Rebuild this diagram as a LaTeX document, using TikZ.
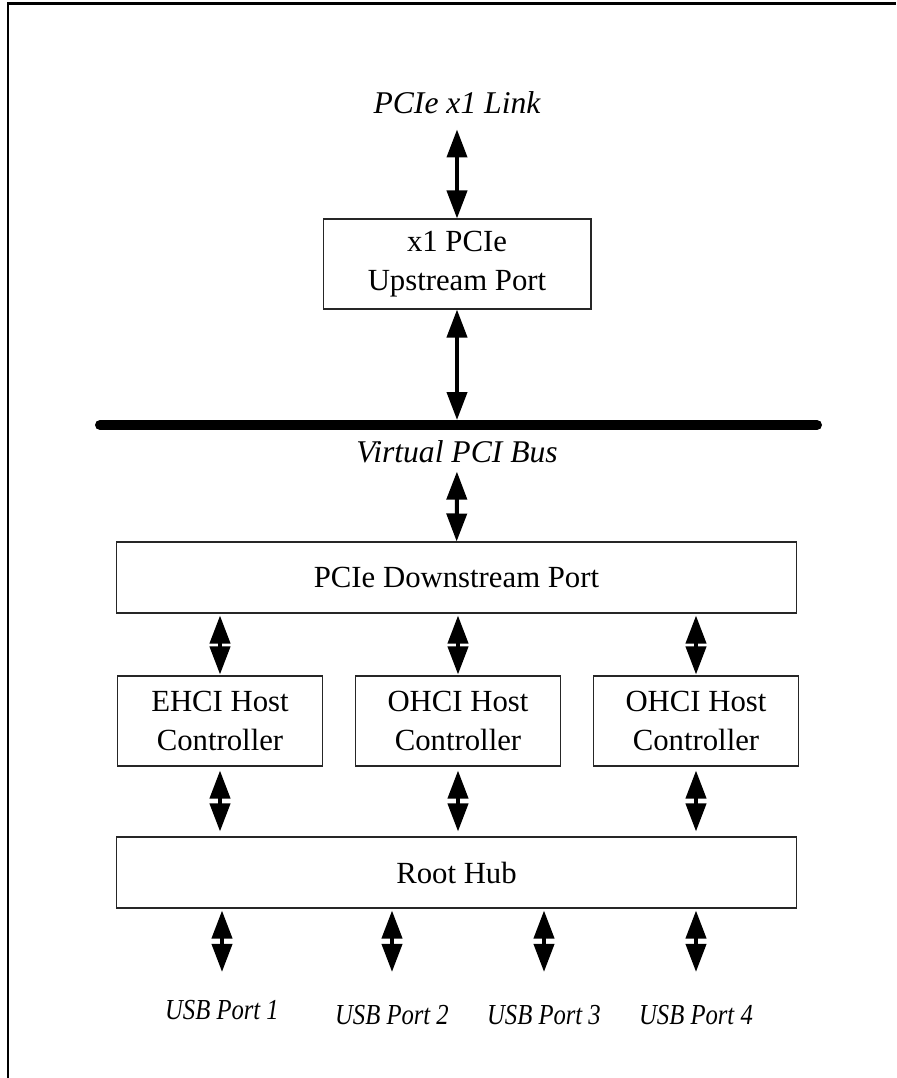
\documentclass[tikz,border=0pt]{standalone}
\usepackage{fontspec}
\setmainfont{Liberation Serif}
\usepackage{tikz}
\usetikzlibrary{arrows.meta,positioning}
\newcommand{\narrowtext}[1]{\scalebox{0.85}[1]{#1}}

\begin{document}
\begin{tikzpicture}[x=0.02cm, y=-0.02cm, >={Triangle[length=0.56cm, width=0.4cm]},
        block/.style={draw=black!85, line width=0.6pt, rectangle, align=center, inner sep=0pt, font=\fontsize{17.5}{22}\selectfont},
        tag/.style={inner sep=0pt, font=\itshape\fontsize{18}{21}\selectfont},
        usbtag/.style={inner sep=0pt, font=\itshape\fontsize{16.5}{20}\selectfont},
        link/.style={<->, line width=0.08cm}]
        \useasboundingbox (0,0) rectangle (896,1078);
        % Marco superior e izquierdo
        \draw[line width=0.06cm] (8,1078) -- (8,4) -- (896,4);
        % Enlace PCIe y puerto de subida
        \node[tag] (link) at (457,103) {PCIe x1 Link};
        \node[block, minimum width=5.36cm, minimum height=1.8cm] (upstream) at (457,264) {x1 PCIe\\Upstream Port};
        \draw[link, shorten <=0.3cm] (link) -- (upstream);
        % Bus PCI virtual
        \coordinate (busL) at (100,425);
        \coordinate (busR) at (817,425);
        \coordinate (busM) at (457,425);
        \draw[line width=0.2cm, line cap=round] (busL) -- (busR);
        \draw[link, shorten >=0.1cm] (upstream) -- (busM);
        \node[tag] (bus) at (457,452) {Virtual PCI Bus};
        % Puerto de bajada
        \node[block, minimum width=13.62cm, minimum height=1.42cm] (downstream) at (456.5,577.5) {PCIe Downstream Port};
        \draw[link, shorten <=0.16cm] (bus) -- (downstream);
        % Controladores
        \node[block, minimum width=4.1cm, minimum height=1.8cm] (ehci) at (220,721) {EHCI Host\\Controller};
        \node[block, minimum width=4.1cm, minimum height=1.8cm] (ohciA) at (458,721) {OHCI Host\\Controller};
        \node[block, minimum width=4.1cm, minimum height=1.8cm] (ohciB) at (696,721) {OHCI Host\\Controller};
        \draw[link, shorten <=0.04cm, shorten >=0.02cm] (ehci |- downstream.south) -- (ehci);
        \draw[link, shorten <=0.04cm, shorten >=0.02cm] (ohciA |- downstream.south) -- (ohciA);
        \draw[link, shorten <=0.04cm, shorten >=0.02cm] (ohciB |- downstream.south) -- (ohciB);
        % Root Hub
        \node[block, minimum width=13.62cm, minimum height=1.42cm] (root) at (456.5,872.5) {Root Hub};
        \draw[link, shorten <=0.08cm, shorten >=0.1cm] (ehci) -- (ehci |- root.north);
        \draw[link, shorten <=0.08cm, shorten >=0.1cm] (ohciA) -- (ohciA |- root.north);
        \draw[link, shorten <=0.08cm, shorten >=0.1cm] (ohciB) -- (ohciB |- root.north);
        % Puertos USB
        \node[usbtag] (usb1) at (222,1010) {\narrowtext{USB Port 1}};
        \node[usbtag] (usb2) at (392,1015) {\narrowtext{USB Port 2}};
        \node[usbtag] (usb3) at (544,1015) {\narrowtext{USB Port 3}};
        \node[usbtag] (usb4) at (696,1015) {\narrowtext{USB Port 4}};
        \draw[link, shorten <=0.04cm, shorten >=0.56cm] (usb1 |- root.south) -- (usb1);
        \draw[link, shorten <=0.04cm, shorten >=0.66cm] (usb2 |- root.south) -- (usb2);
        \draw[link, shorten <=0.04cm, shorten >=0.66cm] (usb3 |- root.south) -- (usb3);
        \draw[link, shorten <=0.04cm, shorten >=0.66cm] (usb4 |- root.south) -- (usb4);
    \end{tikzpicture}
\end{document}
